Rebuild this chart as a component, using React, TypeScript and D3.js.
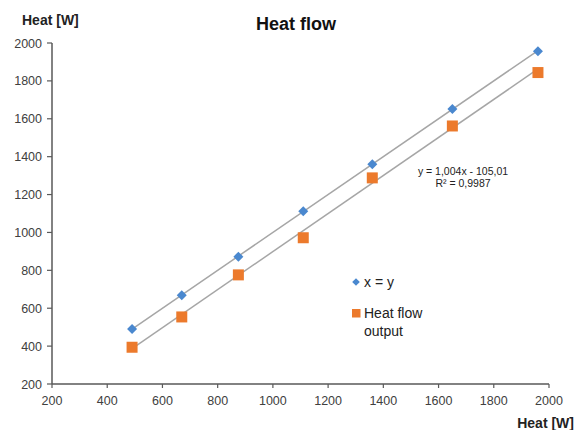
import React from "react";
import * as d3 from "d3";

const heatInput = [490, 670, 875, 1110, 1360, 1650, 1960];
const xEqualsY = [490, 668, 872, 1112, 1360, 1652, 1956];
const heatFlowOutput = [394, 554, 776, 972, 1288, 1562, 1844];
const xTicks = [200, 400, 600, 800, 1000, 1200, 1400, 1600, 1800, 2000];
const yTicks = [200, 400, 600, 800, 1000, 1200, 1400, 1600, 1800, 2000];
const trendSlope = 1.004;
const trendIntercept = -105.01;

const W = 576;
const H = 430;
const FONT = "'Liberation Sans', Arial, Helvetica, sans-serif";

export default function App() {
  const x = d3.scaleLinear().domain([200, 2000]).range([52, 549]);
  const y = d3.scaleLinear().domain([200, 2000]).range([384, 43]);
  const xMin = d3.min(heatInput) as number;
  const xMax = d3.max(heatInput) as number;

  const line = d3
    .line<[number, number]>()
    .x((d) => x(d[0]))
    .y((d) => y(d[1]));

  const blueTrend: [number, number][] = [
    [xMin, xMin],
    [xMax, xMax],
  ];
  const orangeTrend: [number, number][] = [
    [xMin, trendSlope * xMin + trendIntercept],
    [xMax, trendSlope * xMax + trendIntercept],
  ];

  const diamond = (cx: number, cy: number, r: number) =>
    `M${cx},${cy - r}L${cx + r},${cy}L${cx},${cy + r}L${cx - r},${cy}Z`;

  const blue = "#4a88cf";
  const orange = "#ec7a2c";
  const axisColor = "#595959";
  const textColor = "#404040";

  return (
    <svg
      width={W}
      height={H}
      style={{ position: "absolute", left: 0, top: 0, background: "#fff" }}
      fontFamily={FONT}
    >
      <rect width={W} height={H} fill="#fff" />
      {/* title */}
      <text x={296} y={30} textAnchor="middle" fontSize={18} fontWeight="bold" fill="#111">
        Heat flow
      </text>
      {/* y axis title */}
      <text x={22} y={25} fontSize={14} fontWeight="bold" fill="#222">
        Heat [W]
      </text>
      {/* x axis title */}
      <text x={574} y={428} textAnchor="end" fontSize={14} fontWeight="bold" fill="#222">
        Heat [W]
      </text>

      {/* axes */}
      <line x1={x(200)} x2={x(2000)} y1={y(200)} y2={y(200)} stroke={axisColor} strokeWidth={1.5} />
      <line x1={x(200)} x2={x(200)} y1={y(200)} y2={y(2000)} stroke={axisColor} strokeWidth={1.5} />
      {xTicks.map((t) => (
        <g key={"x" + t}>
          <line x1={x(t)} x2={x(t)} y1={y(200)} y2={y(200) + 4} stroke={axisColor} strokeWidth={1.2} />
          <text x={x(t)} y={405} textAnchor="middle" fontSize={12.5} fill={textColor}>
            {t}
          </text>
        </g>
      ))}
      {yTicks.map((t) => (
        <g key={"y" + t}>
          <line x1={x(200) - 5} x2={x(200)} y1={y(t)} y2={y(t)} stroke={axisColor} strokeWidth={1.2} />
          <text x={42} y={y(t) + 4.5} textAnchor="end" fontSize={12.5} fill={textColor}>
            {t}
          </text>
        </g>
      ))}

      {/* trend lines */}
      <path d={line(blueTrend) || ""} stroke="#a6a6a6" strokeWidth={1.5} fill="none" />
      <path d={line(orangeTrend) || ""} stroke="#a6a6a6" strokeWidth={1.5} fill="none" />

      {/* markers */}
      {heatInput.map((v, i) => (
        <path key={"b" + i} d={diamond(x(v), y(xEqualsY[i]), 5)} fill={blue} />
      ))}
      {heatInput.map((v, i) => (
        <rect
          key={"o" + i}
          x={x(v) - 5.5}
          y={y(heatFlowOutput[i]) - 5.5}
          width={11}
          height={11}
          fill={orange}
        />
      ))}

      {/* trend equation */}
      <text x={463} y={175} textAnchor="middle" fontSize={10.5} fill="#222">
        y = 1,004x - 105,01
      </text>
      <text x={463} y={186.5} textAnchor="middle" fontSize={10.5} fill="#222">
        R² = 0,9987
      </text>

      {/* legend */}
      <path d={diamond(356, 282, 3.8)} fill={blue} />
      <text x={364} y={287} fontSize={14} fill="#222">
        x = y
      </text>
      <rect x={352} y={309} width={8.5} height={8.5} fill={orange} />
      <text x={364} y={318} fontSize={14} fill="#222">
        Heat flow
      </text>
      <text x={364} y={336} fontSize={14} fill="#222">
        output
      </text>
    </svg>
  );
}
